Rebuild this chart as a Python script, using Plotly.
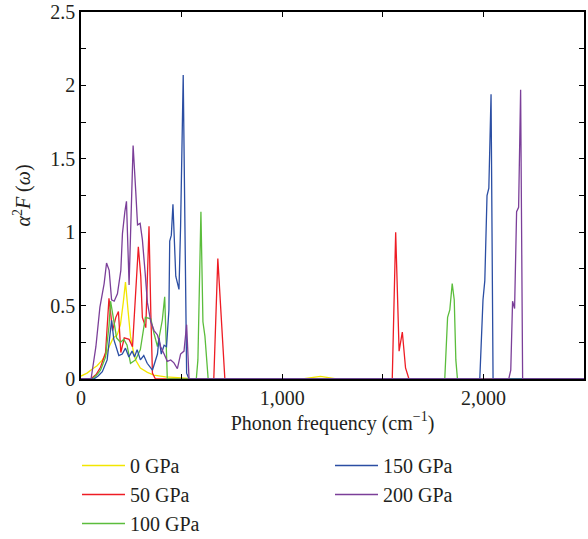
import plotly.graph_objects as go

# ---- data ----
names = ["0 GPa", "50 GPa", "100 GPa", "150 GPa", "200 GPa"]
colors = ["#f2e600", "#ee1c24", "#5bbd3c", "#2b4ea3", "#7b3f99"]

x_0 = [0, 30, 58, 80, 106, 125, 140, 160, 180, 196, 210, 221, 235, 246, 260, 271, 295, 330, 362, 420, 500, 560,
       1100, 1150, 1190, 1230, 1270, 2500]
y_0 = [0.02, 0.04, 0.07, 0.09, 0.13, 0.17, 0.22, 0.28, 0.30, 0.37, 0.52, 0.66, 0.45, 0.29, 0.19, 0.13, 0.075, 0.045,
       0.027, 0.015, 0.008, 0, 0, 0.01, 0.018, 0.01, 0, 0]

x_50 = [0, 48, 75, 97, 122, 139, 157, 173, 186, 198, 215, 239, 256, 272, 285, 297, 305, 322, 338, 347, 355, 370,
        660, 680, 698, 715, 1547, 1564, 1581, 1597, 1613, 1630, 2500]
y_50 = [0, 0, 0.03, 0.08, 0.18, 0.55, 0.33, 0.42, 0.46, 0.18, 0.28, 0.27, 0.22, 0.58, 0.90, 0.70, 0.42, 0.35, 1.04,
        0.45, 0.04, 0, 0, 0.82, 0.40, 0, 0, 1.0, 0.19, 0.32, 0.075, 0, 0]

x_100 = [0, 56, 80, 97, 122, 139, 147, 163, 177, 196, 213, 229, 246, 271, 295, 320, 347, 363, 380, 404, 416, 429,
         573, 581, 596, 606, 616, 632, 1808, 1822, 1833, 1845, 1855, 1863, 1871, 2500]
y_100 = [0, 0, 0.03, 0.06, 0.15, 0.36, 0.53, 0.40, 0.28, 0.25, 0.27, 0.23, 0.107, 0.13, 0.20, 0.42, 0.41, 0.31, 0.22,
         0.40, 0.56, 0, 0, 0.13, 1.14, 0.39, 0.29, 0, 0, 0.42, 0.47, 0.65, 0.54, 0.13, 0, 0]

x_150 = [0, 64, 85, 106, 130, 143, 152, 163, 177, 188, 205, 221, 238, 254, 266, 279, 295, 312, 329, 342, 355, 380,
         388, 399, 413, 425, 437, 441, 449, 457, 471, 487, 495, 508, 525, 537,
         1982, 1998, 2007, 2018, 2027, 2038, 2048, 2500]
y_150 = [0, 0, 0.02, 0.05, 0.13, 0.27, 0.40, 0.27, 0.20, 0.16, 0.17, 0.21, 0.15, 0.19, 0.15, 0.20, 0.13, 0.16, 0.107,
         0.08, 0.06, 0.17, 0.28, 0.17, 0.23, 0.22, 0.47, 0.94, 0.98, 1.19, 0.70, 0.61, 1.04, 2.07, 0.04, 0,
         0, 0.54, 0.67, 1.25, 1.30, 1.94, 0, 0]

x_200 = [0, 50, 74, 94, 115, 127, 140, 152, 165, 181, 198, 206, 218, 226, 239, 259, 272, 281, 294, 305, 319, 330,
         347, 363, 380, 396, 413, 429, 446, 462, 479, 495, 512, 525, 537,
         2126, 2136, 2145, 2155, 2165, 2175, 2185, 2195, 2500]
y_200 = [0, 0, 0.22, 0.49, 0.65, 0.79, 0.74, 0.54, 0.53, 0.58, 0.74, 0.99, 1.14, 1.21, 0.64, 1.59, 1.28, 1.05, 1.06,
         0.95, 0.72, 0.52, 0.39, 0.33, 0.30, 0.22, 0.17, 0.12, 0.13, 0.11, 0.07, 0.17, 0.19, 0.37, 0,
         0, 0.06, 0.53, 0.48, 1.14, 1.17, 1.97, 0, 0]

xs = [x_0, x_50, x_100, x_150, x_200]
ys = [y_0, y_50, y_100, y_150, y_200]
legend_ids = ["legend", "legend", "legend", "legend2", "legend2"]

x_tickvals = [0, 1000, 2000]
x_ticktext = ["0", "1,000", "2,000"]
y_tickvals = [0, 0.5, 1, 1.5, 2, 2.5]
y_ticktext = ["0", "0.5", "1", "1.5", "2", "2.5"]

FONT = "Liberation Serif"
TXT = "#231f20"

fig = go.Figure()
for n, c, x, y, lg in zip(names, colors, xs, ys, legend_ids):
    fig.add_trace(go.Scatter(x=x, y=y, mode="lines", name=n, legend=lg,
                             line=dict(color=c, width=1.3)))

axis_common = dict(showline=True, linecolor="black", linewidth=1.5, mirror="ticks",
                   ticks="inside", ticklen=5, tickwidth=1.2, tickcolor="black",
                   showgrid=False, zeroline=False, automargin=False,
                   tickfont=dict(family=FONT, size=20, color=TXT))

PL, PR, PT, PB = 81, 4, 12, 160
W, H = 588, 539
pw, ph = W - PL - PR, H - PT - PB

def lx(px):
    return (px - PL) / pw

def ly(py):
    return (H - PB - py) / ph

fig.update_layout(
    width=W, height=H,
    margin=dict(l=PL, r=PR, t=PT, b=PB, autoexpand=False),
    paper_bgcolor="white", plot_bgcolor="white",
    font=dict(family=FONT, size=20, color=TXT),
    xaxis=dict(range=[0, 2500], tickvals=x_tickvals, ticktext=x_ticktext,
               minor=dict(tickvals=[500, 1500, 2500], ticks="inside", ticklen=5, tickcolor="black"),
               title=dict(text="Phonon frequency (cm<sup>−1</sup>)", standoff=8,
                          font=dict(family=FONT, size=20, color=TXT)),
               **axis_common),
    yaxis=dict(range=[0, 2.5], tickvals=y_tickvals, ticktext=y_ticktext,
               minor=dict(dtick=0.25, ticks="inside", ticklen=5, tickcolor="black"),
               title=dict(text="<i>α</i><sup>2</sup><i>F</i> (<i>ω</i>)", standoff=14,
                          font=dict(family=FONT, size=20, color=TXT)),
               **axis_common),
    legend=dict(x=lx(77), y=ly(446), xanchor="left", yanchor="top", orientation="v",
                itemwidth=43, bgcolor="rgba(0,0,0,0)",
                font=dict(family=FONT, size=20, color=TXT), tracegroupgap=0),
    legend2=dict(x=lx(330), y=ly(446), xanchor="left", yanchor="top", orientation="v",
                 itemwidth=43, bgcolor="rgba(0,0,0,0)",
                 font=dict(family=FONT, size=20, color=TXT), tracegroupgap=0),
)

fig.write_html("out.html")
